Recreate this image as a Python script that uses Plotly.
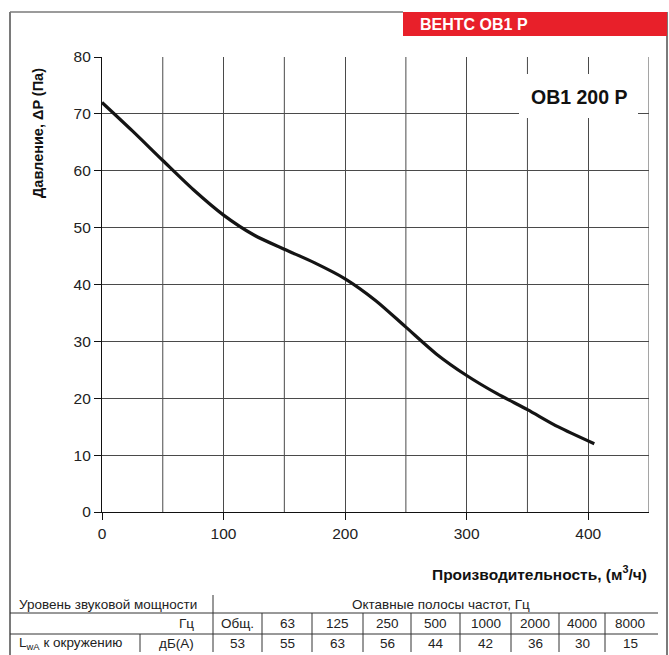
import plotly.graph_objects as go

# ---- data ----
flow = [0, 25, 50, 75, 100, 125, 150, 175, 200, 225, 250, 275, 300, 325, 350, 375, 405]
pressure = [72, 67, 61.8, 56.7, 52.2, 48.7, 46.2, 43.8, 41, 37.2, 32.5, 27.8, 24, 20.8, 18, 15, 12]

x_ticks = [0, 100, 200, 300, 400]
y_ticks = [0, 10, 20, 30, 40, 50, 60, 70, 80]

header_label = "ВЕНТС ОВ1 Р"
model_label = "ОВ1 200 Р"
x_title = "Производительность, (м<sup>3</sup>/ч)"
y_title = "Давление, ΔP (Па)"

sound_title = "Уровень звуковой мощности"
band_title = "Октавные полосы частот, Гц"
hz_label = "Гц"
unit_label = "дБ(А)"
row_label = "L<sub>wA</sub> к окружению"
bands = ["Общ.", "63", "125", "250", "500", "1000", "2000", "4000", "8000"]
levels = [53, 55, 63, 56, 44, 42, 36, 30, 15]

# ---- layout geometry (pixels) ----
W, H = 669, 655
PL, PR, PT, PB = 102, 649, 57, 512


def px(x):
    return (x - PL) / (PR - PL)


def py(y):
    return (PB - y) / (PB - PT)


FONT = "Liberation Sans, Arial, Helvetica, sans-serif"

fig = go.Figure()
fig.add_trace(go.Scatter(
    x=flow, y=pressure, mode="lines",
    line=dict(color="#141414", width=3.2, shape="spline", smoothing=0.8),
    hoverinfo="skip", showlegend=False,
))

shapes = []
annotations = []


def line(x0, y0, x1, y1, color="#333333", width=1):
    shapes.append(dict(type="line", xref="paper", yref="paper",
                       x0=px(x0), y0=py(y0), x1=px(x1), y1=py(y1),
                       line=dict(color=color, width=width)))


def text(x, y, s, size=13.5, anchor="center", bold=False, color="#222222", angle=0):
    annotations.append(dict(xref="paper", yref="paper", x=px(x), y=py(y),
                            text=f"<b>{s}</b>" if bold else s, showarrow=False,
                            xanchor=anchor, yanchor="middle", textangle=angle,
                            font=dict(family=FONT, size=size, color=color)))


# outer frame
line(10, 12, 403, 12, color="#7a7a7a", width=1.5)
line(10, 12, 10, 655, color="#7a7a7a", width=2)
line(667, 12, 667, 655, color="#7a7a7a", width=2)
# red header
shapes.append(dict(type="rect", xref="paper", yref="paper",
                   x0=px(403), y0=py(12), x1=px(667), y1=py(36),
                   fillcolor="#e8202a", line=dict(width=0)))
text(418, 24.5, header_label, size=16, anchor="left", bold=True, color="white")

# model label box
shapes.append(dict(type="rect", xref="paper", yref="paper",
                   x0=px(519), y0=py(74), x1=px(638), y1=py(118),
                   fillcolor="white", line=dict(width=0), layer="above"))
text(579, 97, model_label, size=19.5, bold=True, color="#111111")

# axis titles
text(38, 133, y_title, size=14.5, bold=True, color="#111111", angle=-90)
text(649, 573, x_title, size=15.5, anchor="right", bold=True, color="#111111")

# ---- sound table ----
col_edges = [213, 262, 312, 363, 411, 460, 511, 559, 605, 655]
r_top, r1, r2, r_bot = 595, 613, 634, 652
line(213, r_top, 213, r_bot)
line(10, r1, 658, r1)
line(10, r2, 658, r2)
for e in col_edges[1:-1]:
    line(e, r1, e, r_bot)
line(140, r2, 140, r_bot)

text(17, 604, sound_title, anchor="left")
text(441, 604, band_title)
text(196, 623.5, hz_label, anchor="right")
text(17, 643.5, row_label, anchor="left")
text(196, 643.5, unit_label, anchor="right")
for i, (b, v) in enumerate(zip(bands, levels)):
    cx = (col_edges[i] + col_edges[i + 1]) / 2
    text(cx, 623.5, b)
    text(cx, 643.5, str(v))

fig.update_layout(
    width=W, height=H,
    margin=dict(l=PL, r=W - PR, t=PT, b=H - PB, pad=0),
    paper_bgcolor="white", plot_bgcolor="white",
    shapes=shapes, annotations=annotations,
    showlegend=False,
    xaxis=dict(range=[0, 450], tickvals=x_ticks, ticks="outside", ticklen=7,
               tickcolor="#111", showgrid=True, gridcolor="#4a4a4a", gridwidth=1,
               showline=True, linecolor="#111", linewidth=1.2, zeroline=False,
               tickfont=dict(family=FONT, size=15.5, color="#222")),
    yaxis=dict(range=[0, 80], tickvals=y_ticks, ticks="outside", ticklen=7,
               tickcolor="#111", showgrid=True, gridcolor="#4a4a4a", gridwidth=1,
               showline=True, linecolor="#111", linewidth=1.2, zeroline=False,
               tickfont=dict(family=FONT, size=15.5, color="#222")),
)
# vertical grid every 50 (ticks labelled only each 100)
for gx in [50, 150, 250, 350, 450]:
    fig.add_shape(type="line", xref="x", yref="y", x0=gx, x1=gx, y0=0, y1=80,
                  line=dict(color="#4a4a4a", width=1), layer="below")

fig.write_html("out.html", config={"displayModeBar": False},
               post_script="document.body.style.margin='0px';document.body.style.overflow='hidden';")
